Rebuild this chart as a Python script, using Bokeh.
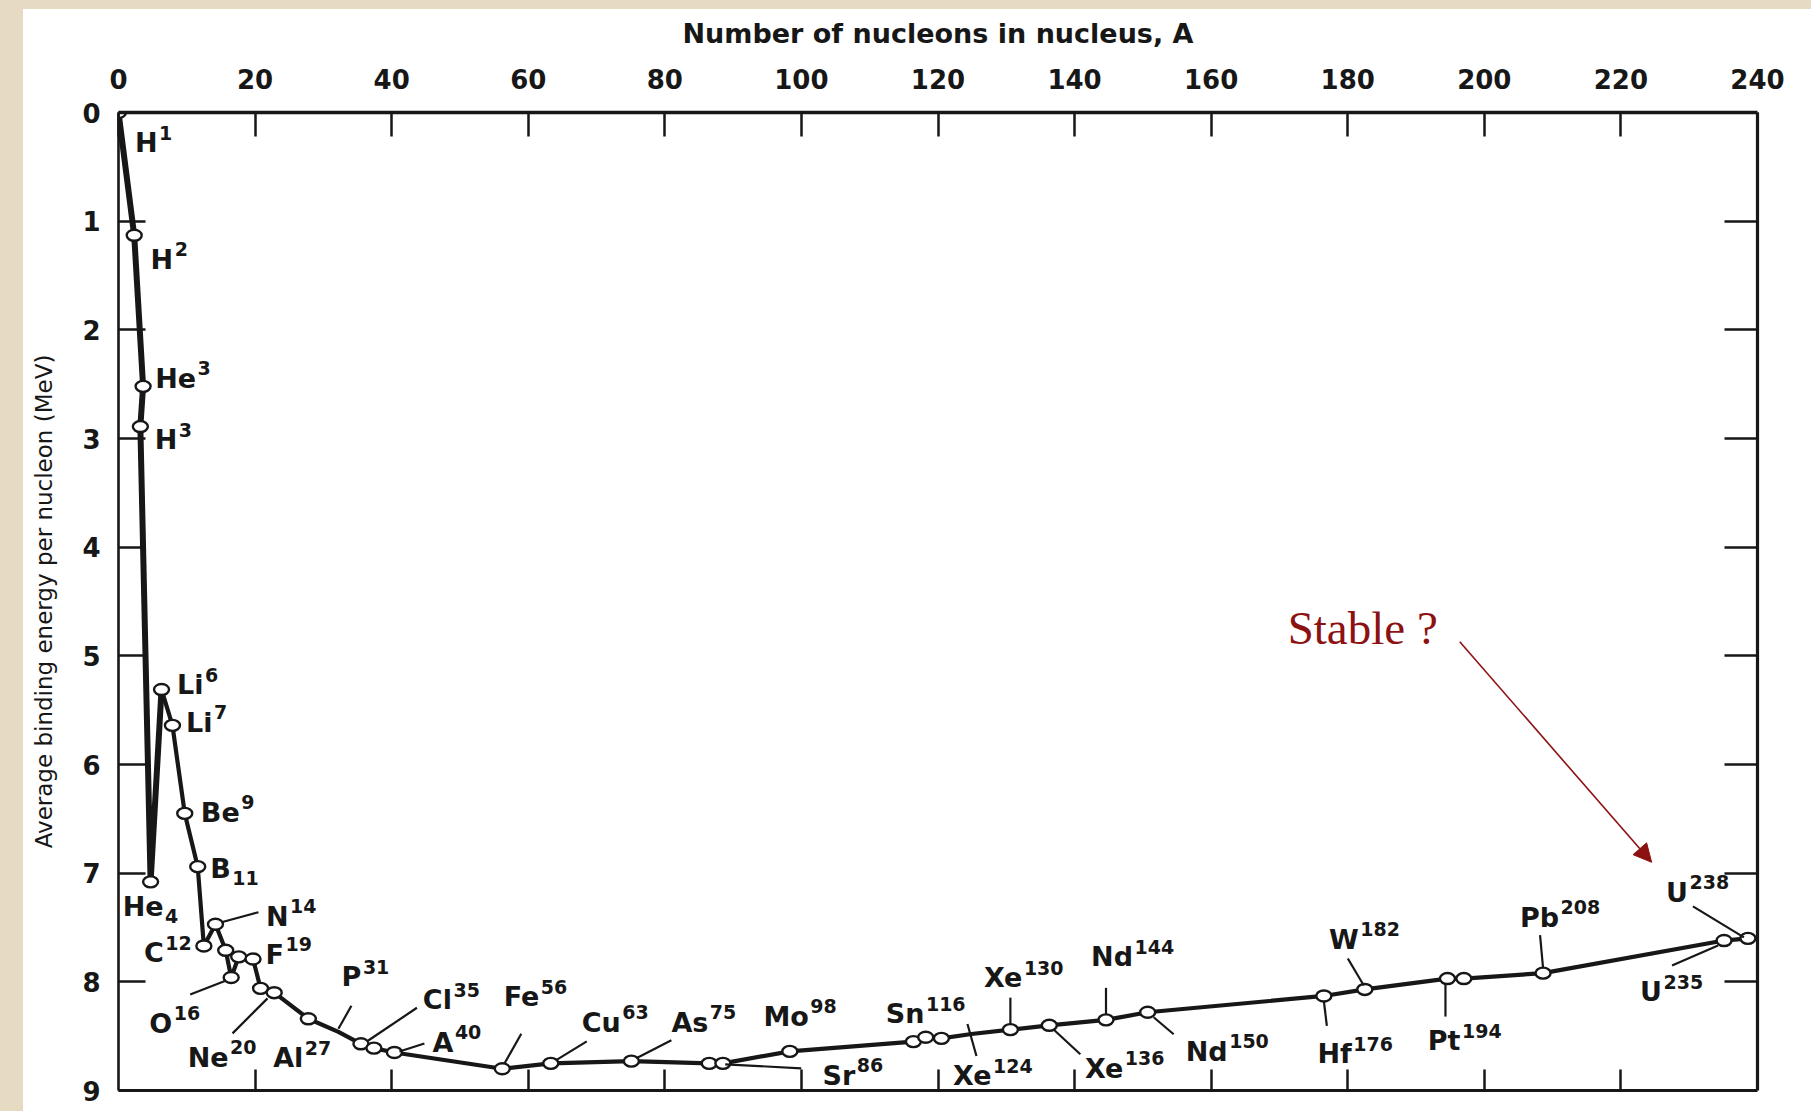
from bokeh.plotting import figure
from bokeh.models import Range1d, LinearAxis, FixedTicker, Arrow, NormalHead, Label
from bokeh.core.properties import value
from bokeh.embed import file_html
from bokeh.resources import INLINE

# ---------------- data ----------------
nuclide = ["H1", "H2", "He3", "H3", "He4", "Li6", "Li7", "Be9", "B11", "C12",
           "N14", "N15", "O16", "O17", "F19", "Ne20", "Na23", "Al27", "P31", "Cl35",
           "K39", "A40", "Fe56", "Cu63", "As75", "Sr86", "Y89", "Mo98", "Sn116", "Sn118",
           "Sn120", "Xe124", "Xe130", "Xe136", "Nd144", "Nd150", "Hf176", "W182", "Pt194", "Au197",
           "Pb208", "U235", "U238"]
mass_number = [0, 2.3, 3.6, 3.2, 4.7, 6.3, 7.9, 9.7, 11.6, 12.5,
               14.2, 15.7, 16.5, 17.6, 19.7, 20.8, 22.8, 27.8, 32.2, 35.5,
               37.4, 40.4, 56.2, 63.3, 75.1, 86.5, 88.5, 98.3, 116.4, 118.2,
               120.5, 124.9, 130.6, 136.3, 144.6, 150.7, 176.5, 182.5, 194.6, 197.0,
               208.6, 235.1, 238.6]
binding_energy = [0.0, 1.13, 2.52, 2.89, 7.08, 5.31, 5.64, 6.45, 6.94, 7.67,
                  7.47, 7.71, 7.96, 7.77, 7.79, 8.06, 8.10, 8.34, 8.46, 8.57,
                  8.61, 8.65, 8.80, 8.75, 8.73, 8.75, 8.75, 8.64, 8.55, 8.51,
                  8.52, 8.48, 8.44, 8.40, 8.35, 8.28, 8.13, 8.07, 7.97, 7.97,
                  7.92, 7.62, 7.60]
has_circle = [n not in ("P31", "Xe124") for n in nuclide]
light_nuclei = ["H1", "H2", "He3", "H3", "He4", "Li6"]

x_ticks = list(range(0, 241, 20))
y_ticks = list(range(0, 10))
x_title = "Number of nucleons in nucleus, A"
y_title = "Average binding energy per nucleon (MeV)"

label_nuclide = ["H1", "H2", "He3", "H3", "He4", "Li6", "Li7", "Be9", "B11", "C12",
                 "N14", "O16", "F19", "Ne20", "Al27", "P31", "Cl35", "A40", "Fe56", "Cu63",
                 "As75", "Sr86", "Mo98", "Sn116", "Xe124", "Xe130", "Xe136", "Nd144", "Nd150",
                 "Hf176", "W182", "Pt194", "Pb208", "U235", "U238"]
label_symbol = ["H", "H", "He", "H", "He", "Li", "Li", "Be", "B", "C",
                "N", "O", "F", "Ne", "Al", "P", "Cl", "A", "Fe", "Cu",
                "As", "Sr", "Mo", "Sn", "Xe", "Xe", "Xe", "Nd", "Nd",
                "Hf", "W", "Pt", "Pb", "U", "U"]
label_script = ["1", "2", "3", "3", "4", "6", "7", "9", "11", "12",
                "14", "16", "19", "20", "27", "31", "35", "40", "56", "63",
                "75", "86", "98", "116", "124", "130", "136", "144", "150",
                "176", "182", "194", "208", "235", "238"]
label_is_sub = [s in ("He4", "B11") for s in label_nuclide]

annotation_text = "Stable ?"

# ---------------- layout (pixel offsets of label anchors / leaders) ----------------
label_offset = {
    "H1": (39, 30), "H2": (39, 24), "He3": (53, -8), "H3": (37, 13), "He4": (13, 25),
    "Li6": (42, -5), "Li7": (40, -3), "Be9": (55, -1), "B11": (33, 2), "C12": (-40, 7),
    "N14": (73, -8), "O16": (-59, 46), "F19": (31, -5), "Ne20": (-32, 69), "Al27": (-5, 39),
    "P31": (23, -55), "Cl35": (91, -44), "A40": (59, -10), "Fe56": (37, -72), "Cu63": (70, -41),
    "As75": (77, -39), "Sr86": (146, 12), "Mo98": (19, -35), "Sn116": (11, -28),
    "Xe124": (20, 42), "Xe130": (12, -52), "Xe136": (74, 43), "Nd144": (27, -63),
    "Nd150": (80, 39), "Hf176": (28, 58), "W182": (-6, -50), "Pt194": (13, 62),
    "Pb208": (16, -56), "U235": (-62, 51), "U238": (-60, -46),
}
leader_offset = {
    "N14": (6, -2, 43, -12), "O16": (-5, 3, -41, 17), "Ne20": (7, 10, -28, 45),
    "P31": (0, -3, 13, -26), "Cl35": (7, -3, 56, -36), "A40": (5, -1, 30, -9),
    "Fe56": (2, -5, 19, -35), "Cu63": (5, -3, 36, -22), "As75": (5, -3, 40, -21),
    "Sr86": (16, 1, 92, 5), "Xe124": (-4, -10, 5, 22), "Xe130": (0, -5, 0, -32),
    "Xe136": (4, 4, 31, 29), "Nd144": (0, -5, 0, -32), "Nd150": (6, 5, 26, 22),
    "Hf176": (0, 5, 3, 30), "W182": (-1, -4, -17, -31), "Pt194": (-2, 5, -2, 38),
    "Pb208": (0, -5, -3, -38), "U235": (-6, 5, -52, 25), "U238": (-4, -1, -55, -32),
}
STABLE_AT = (171.2, 4.74)
ARROW_FROM = (196.4, 4.87)
ARROW_TO = (224.5, 6.90)

W, H = 1808, 1108
B_LEFT, B_TOP = 118, 112
B_RIGHT = W - 1757
B_BOTTOM = H - 1090
FRAME_W = W - B_LEFT - B_RIGHT
FRAME_H = H - B_TOP - B_BOTTOM
X0, X1 = 0, 240
Y0, Y1 = 0, 9
PX_A = FRAME_W / (X1 - X0)
PX_E = FRAME_H / (Y1 - Y0)

INK = "#171717"
RED = "#8c1111"
PAPER = "#e7dac3"
FONT = "DejaVu Sans"

p = figure(width=W, height=H, x_range=Range1d(X0, X1), y_range=Range1d(Y1, Y0),
           x_axis_location="above", y_axis_location="left",
           output_backend="svg", toolbar_location=None,
           min_border_left=B_LEFT, min_border_right=B_RIGHT,
           min_border_top=B_TOP, min_border_bottom=B_BOTTOM)
p.grid.visible = False
p.outline_line_color = None
p.background_fill_color = "white"
p.border_fill_color = None


def style_axis(ax, ticks, tick_in, lw, show_labels):
    ax.ticker = FixedTicker(ticks=ticks)
    ax.axis_line_color = INK
    ax.axis_line_width = lw
    ax.major_tick_line_color = INK
    ax.major_tick_line_width = 2.5
    ax.major_tick_in = tick_in
    ax.major_tick_out = 0
    ax.minor_tick_in = 0
    ax.minor_tick_out = 0
    ax.minor_tick_line_color = None
    if show_labels:
        ax.major_label_text_font = FONT
        ax.major_label_text_font_style = "bold"
        ax.major_label_text_font_size = "26px"
        ax.major_label_text_color = INK
    else:
        ax.major_label_text_font_size = "1px"
        ax.major_label_text_color = None
        ax.major_label_standoff = 0


xa = p.xaxis[0]
style_axis(xa, x_ticks, 24, 3.4, True)
xa.major_label_standoff = 24
xa.axis_label = x_title
xa.axis_label_text_font = FONT
xa.axis_label_text_font_style = "bold"
xa.axis_label_text_font_size = "27px"
xa.axis_label_text_color = INK
xa.axis_label_standoff = 17

ya = p.yaxis[0]
style_axis(ya, y_ticks, 27, 2.6, True)
ya.major_label_standoff = 18
ya.axis_label = y_title
ya.axis_label_text_font = FONT
ya.axis_label_text_font_style = "normal"
ya.axis_label_text_font_size = "23px"
ya.axis_label_text_color = INK
ya.axis_label_standoff = 22

ra = LinearAxis()
style_axis(ra, y_ticks[1:-1], 33, 3.2, False)
p.add_layout(ra, "right")

ba = LinearAxis()
style_axis(ba, x_ticks[1:-1], 21, 3.2, False)
p.add_layout(ba, "below")

# ---------------- curve and points ----------------
idx = {n: i for i, n in enumerate(nuclide)}
p.line(mass_number, binding_energy, line_width=4.2, line_color=INK, line_join="round")
li = [idx[n] for n in light_nuclei]
p.line([mass_number[i] for i in li], [binding_energy[i] for i in li],
       line_width=6, line_color=INK, line_join="round")
cx = [a for a, c in zip(mass_number, has_circle) if c]
cy = [e for e, c in zip(binding_energy, has_circle) if c]
p.ellipse(x=cx, y=cy, width=15, height=11, width_units="screen", height_units="screen",
          fill_color="white", line_color=INK, line_width=2.4)

# ---------------- leaders ----------------
lx0, ly0, lx1, ly1 = [], [], [], []
for n, (a, b, c, d) in leader_offset.items():
    i = idx[n]
    lx0.append(mass_number[i] + a / PX_A)
    ly0.append(binding_energy[i] + b / PX_E)
    lx1.append(mass_number[i] + c / PX_A)
    ly1.append(binding_energy[i] + d / PX_E)
p.segment(lx0, ly0, lx1, ly1, line_width=2.2, line_color=INK)

# ---------------- labels ----------------
sx, sy, st = [], [], []
px_, py_, pt_ = [], [], []
for n, sym, scr, sub in zip(label_nuclide, label_symbol, label_script, label_is_sub):
    i = idx[n]
    dx, dy = label_offset[n]
    jx = mass_number[i] + dx / PX_A
    jy = binding_energy[i] + dy / PX_E
    sx.append(jx)
    sy.append(jy)
    st.append(sym)
    px_.append(jx + 1.5 / PX_A)
    py_.append(jy + (9 if sub else -10) / PX_E)
    pt_.append(scr)

p.text(x=sx, y=sy, text=st, text_font=value(FONT), text_font_style="bold",
       text_font_size="27px", text_align="right", text_baseline="middle", text_color=INK)
p.text(x=px_, y=py_, text=pt_, text_font=value(FONT), text_font_style="bold",
       text_font_size="19px", text_align="left", text_baseline="middle", text_color=INK)

# ---------------- annotation ----------------
p.add_layout(Label(x=STABLE_AT[0], y=STABLE_AT[1], text=annotation_text,
                   text_font="Liberation Serif", text_font_size="47px",
                   text_color=RED, text_baseline="alphabetic", text_align="left"))
p.add_layout(Arrow(end=NormalHead(size=18, fill_color=RED, line_color=RED, line_width=1),
                   x_start=ARROW_FROM[0], y_start=ARROW_FROM[1],
                   x_end=ARROW_TO[0], y_end=ARROW_TO[1],
                   line_color=RED, line_width=1.6))

html = file_html(p, INLINE, title="Binding energy per nucleon")
style = ("<style>html,body{margin:0 !important;padding:0;}"
         "body{background-color:#ffffff;"
         "background-image:linear-gradient(to right," + PAPER + " 0px," + PAPER + " 23px,rgba(255,255,255,0) 23px),"
         "linear-gradient(to bottom," + PAPER + " 0px," + PAPER + " 9px,#ffffff 9px);"
         "background-repeat:no-repeat;background-size:100% 100%;min-height:1108px;}</style>")
html = html.replace("</head>", style + "</head>", 1)
open("out.html", "w").write(html)
